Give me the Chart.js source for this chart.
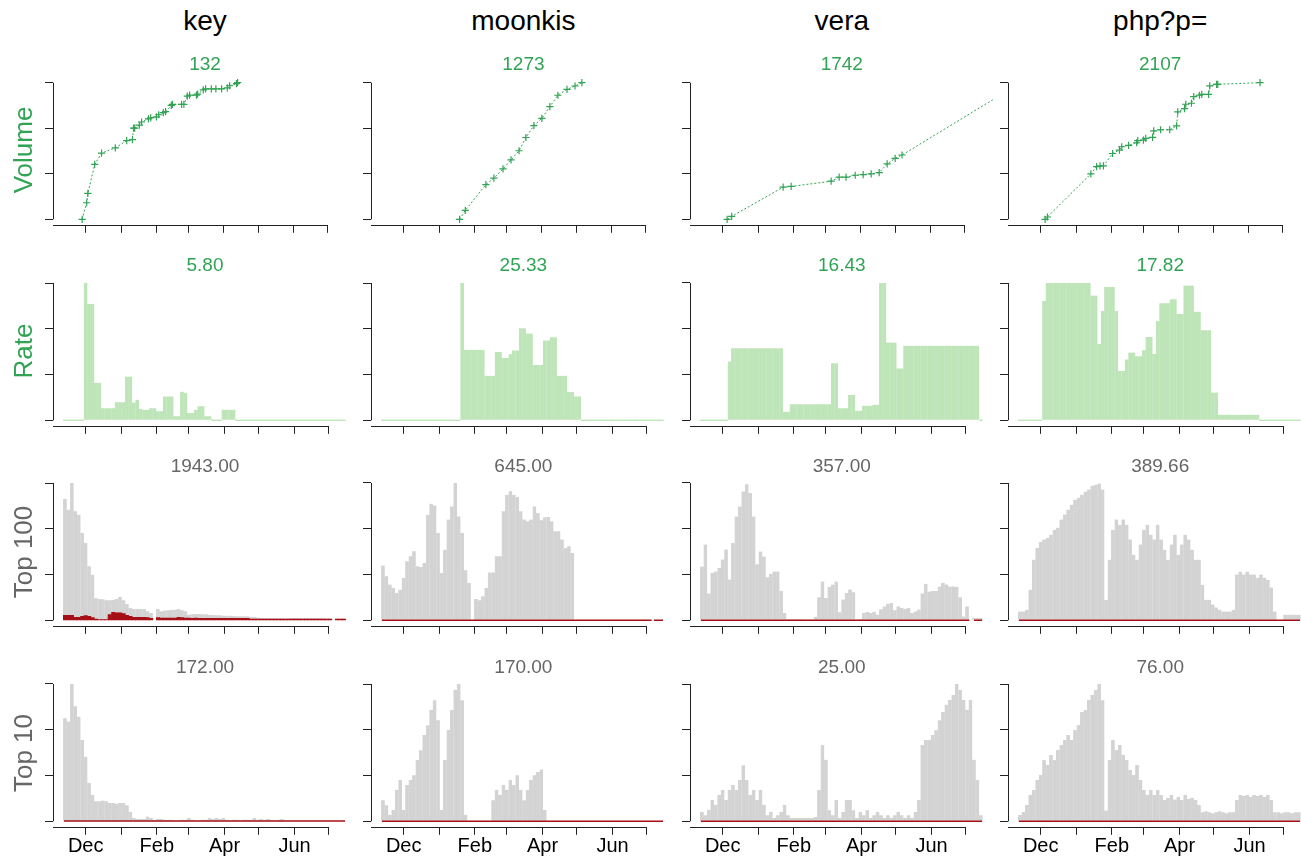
<!DOCTYPE html>
<html>
<head>
<meta charset="utf-8">
<script src="https://cdn.jsdelivr.net/npm/chart.js@4.4.1/dist/chart.umd.min.js"></script>
<style>
  html, body { margin: 0; padding: 0; background: #fff; }
  body { width: 1301px; height: 857px; position: relative; overflow: hidden;
         font-family: 'Liberation Sans', Arial, Helvetica, sans-serif; }
  .lbl { position: absolute; white-space: nowrap; line-height: 1; }
  canvas { position: absolute; }
</style>
</head>
<body>
<script>
// ---- data ----
const columns = ['key', 'moonkis', 'vera', 'php?p='];
const rowNames = ['Volume', 'Rate', 'Top 100', 'Top 10'];

// x axis: day 0 = 1 Nov
const monthDays = [30, 61, 92, 120, 151, 181, 212, 242];
const monthNames = ['Dec', '', 'Feb', '', 'Apr', '', 'Jun', ''];

// panel maxima (shown above each panel)
const volumeTotals = [132, 1273, 1742, 2107];
const rateMax = [5.80, 25.33, 16.43, 17.82];
const top100Max = [1943.00, 645.00, 357.00, 389.66];
const top10Max = [172.00, 170.00, 25.00, 76.00];

// cumulative volume, [day, count]
const keyVolume = [[27,0],[31,16],[32,25],[38,53],[44,64],[56,69],[66,76],[71,77],[72,88],[73,88],[77,91],[79,94],[85,97],[87,98],[92,99],[94,101],[98,103],[100,104],[105,110],[106,111],[114,111],[116,111],[119,119],[121,120],[127,120],[128,121],[133,125],[135,126],[140,126],[144,126],[149,126],[154,127],[156,129],[162,131],[163,132]];
const moonkisVolume = [[79,0],[84,83],[102,324],[109,383],[117,470],[124,553],[131,639],[137,762],[144,873],[151,941],[158,1050],[165,1156],[173,1211],[180,1242],[186,1273]];
const veraVolume = [[34,0],[38,38],[83,410],[90,419],[125,486],[132,537],[138,537],[146,562],[153,571],[160,579],[167,596],[174,706],[181,778],[187,820],[291,1742]];
const phpVolume = [[34,0],[36,36],[74,701],[79,813],[82,823],[85,823],[93,1015],[99,1068],[101,1119],[107,1140],[114,1181],[115,1212],[120,1222],[122,1247],[128,1263],[129,1365],[135,1381],[143,1381],[149,1442],[150,1656],[156,1708],[157,1774],[162,1790],[164,1893],[169,1913],[171,1928],[177,1928],[178,2056],[184,2082],[185,2082],[222,2107]];

// bar days (3-day bins)
const barDays = [12,15,18,21,24,27,30,33,36,39,42,45,48,51,54,57,60,63,66,69,72,75,78,81,84,87,90,93,96,99,
  102,105,108,111,114,117,120,123,126,129,132,135,138,141,144,147,150,153,156,159,162,165,168,171,174,177,180,183,186,189,
  192,195,198,201,204,207,210,213,216,219,222,225,228,231,234,237,240,243,246,249,252,255];

const keyRate = [0,0,0,0,0,0,5.80,4.91,4.91,1.59,1.59,0.51,0.51,0.51,0.51,0.76,0.76,0.76,1.85,1.85,
  0.75,0.87,0.49,0.45,0.45,0.51,0.51,0.38,0.38,1.01,1.01,1.01,0.17,0.17,1.21,1.15,0.31,0.31,0.45,0.59,
  0.59,0.17,0.17,0,0,0,0.45,0.45,0.45,0.45,0,0,0,0,0,0,0,0,0,0,
  0,0,0,0,0,0,0,0,0,0,0,0,0,0,0,0,0,0,0,0,0,0];
const moonkisRate = [0,0,0,0,0,0,0,0,0,0,0,0,0,0,0,0,0,0,0,0,0,0,0,
  25.33,13.0,13.0,13.0,13.0,13.0,13.0,8.2,8.2,8.2,12.6,12.6,11.5,11.5,12.2,12.9,12.9,17.0,17.0,16.0,16.0,
  10.2,10.2,10.2,14.7,14.7,15.3,15.3,8.2,8.2,8.2,5.2,5.2,4.4,4.4,
  0,0,0,0,0,0,0,0,0,0,0,0,0,0,0,0,0,0,0,0,0,0,0,0];
const veraRate = [0,0,0,0,0,0,0,0,7.04,8.63,8.63,8.63,8.63,8.63,8.63,8.63,8.63,8.63,8.63,8.63,
  8.63,8.63,8.63,8.63,1.03,1.03,1.91,1.91,1.91,1.91,1.91,1.91,1.91,1.91,1.91,1.91,1.91,1.91,6.84,6.84,
  1.43,1.43,1.43,3.02,3.02,1.15,1.15,1.75,1.75,1.75,1.87,1.87,16.43,16.43,9.31,9.31,9.31,6.21,6.21,8.91,
  8.91,8.91,8.91,8.91,8.91,8.91,8.91,8.91,8.91,8.91,8.91,8.91,8.91,8.91,8.91,8.91,8.91,8.91,8.91,8.91,8.91,0];
const phpRate = [0,0,0,0,0,0,0,15.5,17.82,17.82,17.82,17.82,17.82,17.82,17.82,17.82,17.82,17.82,17.82,17.82,
  17.82,16.2,16.2,9.9,14.2,17.3,17.3,17.3,14.2,6.4,6.4,7.9,8.8,8.8,8.3,8.3,9.1,10.8,10.8,8.6,
  12.9,15.2,15.2,15.2,15.7,15.7,13.8,13.8,17.5,17.5,17.5,14.1,14.1,11.7,11.7,11.7,3.6,3.6,0.73,0.73,
  0.73,0.73,0.73,0.73,0.73,0.73,0.73,0.73,0.73,0.73,0,0,0,0,0,0,0,0,0,0,0,0];

const keyTop100 = [1717,1566,1943,1542,1495,1236,1094,764,646,311,302,297,283,283,292,302,330,283,231,174,
  160,160,160,160,127,104,null,160,127,137,141,151,151,160,141,127,80,85,90,90,
  85,85,75,75,71,71,66,66,66,61,57,57,57,57,52,47,38,33,33,28,
  28,28,28,28,24,28,33,33,33,28,33,33,28,28,28,28,24,24,null,24,24,24];
const keyTop100Red = [71,71,70,42,42,57,66,57,38,19,9,9,9,80,113,104,104,94,71,57,
  42,42,42,42,38,28,null,38,33,33,33,33,33,42,38,33,33,28,33,28,
  28,28,28,28,28,28,28,28,28,28,28,28,28,28,19,19,19,19,19,19,
  19,19,19,19,19,19,19,19,19,19,19,19,19,19,19,19,19,19,null,19,19,19];
const moonkisTop100 = [257,207,168,152,128,144,199,277,301,324,254,250,269,496,548,539,410,222,332,473,
  535,645,488,410,235,175,null,100,94,113,152,225,225,301,301,512,590,606,590,579,
  512,473,465,473,535,504,470,484,485,465,418,418,379,340,348,316,null,null,null,null,
  null,null,null,null,null,null,null,null,null,null,null,null,null,null,null,null,null,null,null,null,null,null];
const veraTop100 = [140,197,70,123,127,136,158,184,106,201,270,296,335,354,331,270,146,179,166,112,
  121,127,127,76,19,3,3,3,3,3,2,2,2,9,60,101,58,87,93,101,
  21,54,71,80,73,2,3,19,22,19,22,15,29,36,43,45,26,36,32,30,
  32,19,23,28,70,95,75,76,76,88,97,93,88,88,87,60,10,36,null,6,6,6];
const phpTop100 = [25,25,30,87,172,206,223,229,234,243,257,263,286,300,314,328,342,348,356,365,
  371,382,385,388,371,58,172,257,286,271,286,271,229,186,172,215,257,271,243,229,
  271,229,200,172,215,243,186,215,243,229,200,172,172,101,58,58,45,36,30,25,
  25,25,30,130,138,130,138,130,130,121,130,121,115,93,25,null,null,16,16,16,16,16];

const keyTop10 = [129,125,172,144,131,102,81,48,33,25,25,26,25,23,23,22,23,23,20,12,
  4,3,3,3,6,4,2,3,3,2,2,2,1,1,2,2,4,2,1,1,
  2,2,4,3,4,3,4,2,1,2,2,1,2,2,2,4,2,3,2,3,
  2,1,2,3,1,1,1,1,1,1,1,1,1,1,1,1,1,1,1,1,1,1];
const moonkisTop10 = [26,20,8,14,39,51,14,45,51,57,76,88,107,119,138,150,125,14,76,113,
  138,163,170,150,8,0,0,0,0,0,0,0,26,39,33,45,39,51,45,57,
  39,26,39,51,57,61,64,14,null,null,null,null,null,null,null,null,null,null,null,null,
  null,null,null,null,null,null,null,null,null,null,null,null,null,null,null,null,null,null,null,null,null,null];
const veraTop10 = [1.7,1.1,2.1,3.9,3.0,4.8,5.7,3.9,5.7,6.6,5.7,7.5,10.2,7.5,4.8,5.7,3.9,5.7,3.0,1.1,
  1.7,0.6,1.1,1.7,3.0,1.1,0.6,0.6,0.6,0.6,0.6,0.6,0.6,0.8,5.7,13.9,11.2,2.0,1.1,3.9,
  0.6,1.7,3.9,3.9,2.0,0.6,1.7,1.1,2.0,0.6,1.1,1.7,1.1,0.6,1.1,0.6,1.1,1.7,1.1,0.6,
  1.1,0.6,1.7,3.9,13.9,14.8,14.8,15.7,16.6,18.4,19.9,21.2,22.1,23.0,25.0,23.9,22.1,20.3,22.1,11.2,7.5,1.1];
const phpTop10 = [3.5,5.1,9.0,14.6,17.3,22.9,25.6,33.9,31.2,36.7,33.9,39.5,42.2,45.0,47.8,45.0,50.5,53.3,60.5,61.6,
  67.1,70.0,72.7,76.0,67.0,6.0,34.0,45.0,39.5,42.2,36.7,33.9,28.4,25.6,31.2,22.9,17.3,14.6,17.3,14.6,
  17.3,14.6,11.8,13.0,14.6,12.0,13.5,11.8,14.6,12.5,13.0,11.8,9.0,5.0,5.5,5.0,4.5,5.0,5.5,5.0,
  4.5,5.0,5.0,11.8,14.6,14.0,14.6,13.5,14.6,14.0,14.6,13.5,14.6,11.8,5.0,5.0,4.5,5.0,5.0,4.5,5.0,5.0];

// thin red series (near zero), [day, value]
const moonkisTop100Red = [[11,0],[246,0],[247,null],[248,0],[256,0]];
const veraTop100Red = [[11,0],[245,0],[247,null],[249,0],[256,0]];
const phpTop100Red = [[11,0],[256,0]];
const keyTop10Red = [[11,0.5],[256,0.5]];
const moonkisTop10Red = [[11,0],[256,0]];
const veraTop10Red = [[11,0],[256,0]];
const phpTop10Red = [[11,0],[256,0]];

// ---- styling / layout ----
const green = '#31a354';
const grayText = '#666666';
const rateFill = 'rgb(190,229,184)';
const rateSeam = 'rgba(150,208,144,0.55)';
const topFill = 'rgb(211,211,211)';
const topSeam = 'rgba(190,190,190,0.6)';
const red = '#a50f15';

const colX = [53, 371.4, 689.8, 1008.2];
const tickTop = [81.7, 282.5, 483.2, 684];
const tickSpan = 137.3;
const plotW = 304;
const dayMin = 1.51, dayMax = 266.4;

Chart.defaults.font.family = "'Liberation Sans', Arial, sans-serif";

// R-style detached axis lines
const rAxes = {
  id: 'rAxes',
  afterDraw(chart) {
    const { ctx, chartArea, scales } = chart;
    const yt = scales.y.ticks;
    const lx = Math.round(chartArea.left) + 0.5;
    const by = Math.round(chartArea.bottom) + 0.5;
    ctx.save();
    ctx.strokeStyle = '#222';
    ctx.lineWidth = 1;
    ctx.beginPath();
    ctx.moveTo(lx, scales.y.getPixelForValue(yt[0].value));
    ctx.lineTo(lx, scales.y.getPixelForValue(yt[yt.length - 1].value));
    ctx.moveTo(chartArea.left, by);
    ctx.lineTo(scales.x.getPixelForValue(monthDays[monthDays.length - 1]), by);
    ctx.stroke();
    ctx.restore();
  }
};

function addPanel(col, row, type, datasets, yLow, yHigh) {
  const bottomRow = row === 3;
  const xH = bottomRow ? 34 : 8;
  const padTop = 10 - tickSpan * 0.04;
  const areaH = tickSpan * 1.08;
  const H = Math.ceil(padTop + areaH + xH + 2);
  const cv = document.createElement('canvas');
  cv.width = 358;
  cv.height = H;
  cv.style.left = (colX[col] - 50) + 'px';
  cv.style.top = (tickTop[row] - 10) + 'px';
  document.body.appendChild(cv);
  const range = yHigh - yLow;

  new Chart(cv, {
    type: type,
    data: { datasets: datasets },
    options: {
      responsive: false,
      animation: false,
      devicePixelRatio: 1,
      layout: { padding: { left: 42, right: 4, top: padTop, bottom: H - padTop - areaH - xH } },
      plugins: { legend: { display: false }, tooltip: { enabled: false } },
      scales: {
        x: {
          type: 'linear', min: dayMin, max: dayMax, offset: false,
          grid: { offset: false, drawOnChartArea: false, tickLength: 8, color: '#222' },
          border: { display: false },
          ticks: {
            display: bottomRow, autoSkip: false, maxRotation: 0, padding: 0,
            color: '#000', font: { size: 20 },
            callback: (v, i) => monthNames[i]
          },
          afterBuildTicks: s => { s.ticks = monthDays.map(v => ({ value: v })); },
          afterFit: s => { s.height = xH; }
        },
        y: {
          min: yLow - 0.04 * range, max: yHigh + 0.04 * range,
          grid: { drawOnChartArea: false, tickLength: 8, color: '#222' },
          border: { display: false },
          ticks: { display: false },
          afterBuildTicks: s => { s.ticks = [0, 1, 2, 3].map(k => ({ value: yLow + k * range / 3 })); },
          afterFit: s => { s.width = 8; }
        }
      }
    },
    plugins: [rAxes]
  });
}

function volumeSet(points) {
  return {
    type: 'line',
    data: points.map(p => ({ x: p[0], y: p[1] })),
    borderColor: green, borderWidth: 1, borderDash: [2, 2],
    pointStyle: 'cross', pointRadius: 3.6, pointBorderWidth: 1.2,
    pointBorderColor: green, fill: false, tension: 0
  };
}

function barSet(values, color, seam, minLen) {
  return {
    type: 'bar',
    data: barDays.map((d, i) => ({ x: d, y: values[i] })),
    backgroundColor: color,
    borderColor: seam || color,
    borderWidth: seam ? { left: 0.7, right: 0, top: 0, bottom: 0 } : 0,
    borderSkipped: false,
    barPercentage: 1, categoryPercentage: 1, grouped: false,
    minBarLength: minLen || 0
  };
}

function redLine(points) {
  return {
    type: 'line',
    data: points.map(p => ({ x: p[0], y: p[1] })),
    borderColor: red, borderWidth: 1.5, pointRadius: 0, fill: false, spanGaps: false
  };
}

function addText(txt, cx, baseline, size, color) {
  const d = document.createElement('div');
  d.className = 'lbl';
  d.textContent = txt;
  d.style.fontSize = size + 'px';
  d.style.color = color;
  d.style.left = cx + 'px';
  d.style.top = (baseline - 0.8465 * size) + 'px';
  d.style.transform = 'translateX(-50%)';
  document.body.appendChild(d);
}

function addRowLabel(txt, cx, cy, size, color) {
  const d = document.createElement('div');
  d.className = 'lbl';
  d.textContent = txt;
  d.style.fontSize = size + 'px';
  d.style.color = color;
  d.style.left = cx + 'px';
  d.style.top = cy + 'px';
  d.style.transform = 'translate(-50%, -50%) rotate(-90deg)';
  document.body.appendChild(d);
}

// ---- build ----
const volumes = [keyVolume, moonkisVolume, veraVolume, phpVolume];
const rates = [keyRate, moonkisRate, veraRate, phpRate];
const top100s = [keyTop100, moonkisTop100, veraTop100, phpTop100];
const top100Reds = [null, moonkisTop100Red, veraTop100Red, phpTop100Red];
const top10s = [keyTop10, moonkisTop10, veraTop10, phpTop10];
const top10Reds = [keyTop10Red, moonkisTop10Red, veraTop10Red, phpTop10Red];

columns.forEach((name, c) => {
  const cx = colX[c] + plotW / 2;
  addText(name, cx, 31, 28, '#000');

  const v = volumes[c];
  addPanel(c, 0, 'line', [volumeSet(v)], v[0][1], volumeTotals[c]);
  addText(String(volumeTotals[c]), cx, tickTop[0] - 11.2, 19, green);

  addPanel(c, 1, 'bar', [barSet(rates[c], rateFill, rateSeam, 1.5)], 0, rateMax[c]);
  addText(rateMax[c].toFixed(2), cx, tickTop[1] - 11.2, 19, green);

  const sets100 = c === 0
    ? [barSet(keyTop100Red, red), barSet(top100s[c], topFill, topSeam)]
    : [redLine(top100Reds[c]), barSet(top100s[c], topFill, topSeam)];
  addPanel(c, 2, 'bar', sets100, 0, top100Max[c]);
  addText(top100Max[c].toFixed(2), cx, tickTop[2] - 11.2, 19, grayText);

  addPanel(c, 3, 'bar', [redLine(top10Reds[c]), barSet(top10s[c], topFill, topSeam)], 0, top10Max[c]);
  addText(top10Max[c].toFixed(2), cx, tickTop[3] - 11.2, 19, grayText);
});

rowNames.forEach((name, r) => {
  addRowLabel(name, 22.5, tickTop[r] + tickSpan / 2, 26, r < 2 ? green : grayText);
});
</script>
</body>
</html>
